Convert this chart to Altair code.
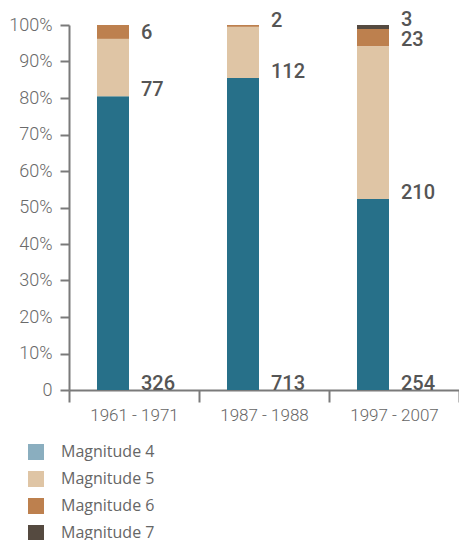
import altair as alt
import pandas as pd

periods = ["1961 - 1971", "1987 - 1988", "1997 - 2007"]
magnitudes = ["Magnitude 4", "Magnitude 5", "Magnitude 6", "Magnitude 7"]

# share of each magnitude within a period (percent of bar height), bottom to top
share_1961_1971 = [80.5, 15.7, 3.8, 0.0]
share_1987_1988 = [85.5, 14.0, 0.5, 0.0]
share_1997_2007 = [52.3, 41.9, 4.7, 1.1]

# counts written next to each segment (None = no segment)
count_1961_1971 = [326, 77, 6, None]
count_1987_1988 = [713, 112, 2, None]
count_1997_2007 = [254, 210, 23, 3]

y_ticks = [0, 10, 20, 30, 40, 50, 60, 70, 80, 90, 100]

bar_colors = ["#277089", "#dfc5a5", "#bd804e", "#554a40"]
legend_colors = ["#8aaebf", "#dfc5a5", "#bd804e", "#554a40"]

rows = []
for period, shares, counts in zip(
    periods,
    [share_1961_1971, share_1987_1988, share_1997_2007],
    [count_1961_1971, count_1987_1988, count_1997_2007],
):
    for mag, s, c in zip(magnitudes, shares, counts):
        if c is None:
            continue
        rows.append({"period": period, "magnitude": mag, "share": s, "count": c})
df = pd.DataFrame(rows)

axis_color = "#7a7a7a"

base = alt.Chart(df).transform_stack(
    stack="share",
    groupby=["period"],
    as_=["y0", "y1"],
    sort=[alt.SortField("magnitude", order="ascending")],
)

x_enc = alt.X(
    "period:N",
    sort=periods,
    scale=alt.Scale(paddingInner=0, paddingOuter=0),
    axis=alt.Axis(
        title=None,
        labelAngle=0,
        tickBand="extent",
        tickSize=12,
        tickWidth=2,
        tickColor=axis_color,
        domainColor=axis_color,
        domainWidth=2,
        labelFont="Roboto",
        labelFontWeight=300,
        labelFontSize=17,
        labelColor="#666666",
        labelPadding=5,
    ),
)

y_enc = alt.Y(
    "y0:Q",
    scale=alt.Scale(domain=[0, 100], nice=False),
    axis=alt.Axis(
        title=None,
        values=y_ticks,
        labelExpr="datum.value == 0 ? '0\u00a0\u00a0\u00a0\u00a0' : datum.value + '%'",
        labelOverlap=False,
        tickSize=9,
        tickWidth=2,
        tickColor=axis_color,
        domainColor=axis_color,
        domainWidth=2,
        grid=False,
        labelFont="Roboto",
        labelFontWeight=300,
        labelFontSize=18,
        labelColor="#6a6a6a",
        labelPadding=8,
    ),
)

bars = base.mark_bar(width=32, xOffset=-21).encode(
    x=x_enc,
    y=y_enc,
    y2="y1:Q",
    color=alt.Color(
        "magnitude:N",
        scale=alt.Scale(domain=magnitudes, range=bar_colors),
        legend=None,
    ),
)

label_style = dict(
    align="left",
    baseline="alphabetic",
    dx=7,
    font="Roboto",
    fontWeight=500,
    fontSize=20,
    color="#555555",
)

labels = base.transform_filter(
    alt.datum.magnitude != "Magnitude 7"
).mark_text(**label_style).encode(
    x=x_enc,
    y=y_enc,
    text="count:Q",
)

labels_top = base.transform_filter(
    alt.datum.magnitude == "Magnitude 7"
).mark_text(dy=-3, **label_style).encode(
    x=x_enc,
    y=y_enc,
    text="count:Q",
)

legend_layer = base.mark_square(opacity=0).encode(
    x=x_enc,
    y=y_enc,
    color=alt.Color(
        "magnitude:N",
        scale=alt.Scale(domain=magnitudes, range=legend_colors),
        legend=alt.Legend(
            title=None,
            orient="none",
            direction="vertical",
            legendX=-41,
            legendY=419,
            symbolType="square",
            symbolSize=256,
            symbolOpacity=1,
            symbolStrokeWidth=0,
            labelFont="Open Sans",
            labelFontSize=16,
            labelColor="#666666",
            labelOffset=17,
            rowPadding=11,
            padding=0,
        ),
    ),
)

chart = (
    alt.layer(bars, labels, labels_top, legend_layer)
    .resolve_scale(color="independent")
    .properties(
        width=390,
        height=365,
        autosize=alt.AutoSizeParams(type="none"),
        padding={"left": 61, "top": 17, "right": 0, "bottom": 150},
    )
    .configure_view(stroke=None)
)

chart.save("out.html", embed_options={"renderer": "svg", "actions": False})
